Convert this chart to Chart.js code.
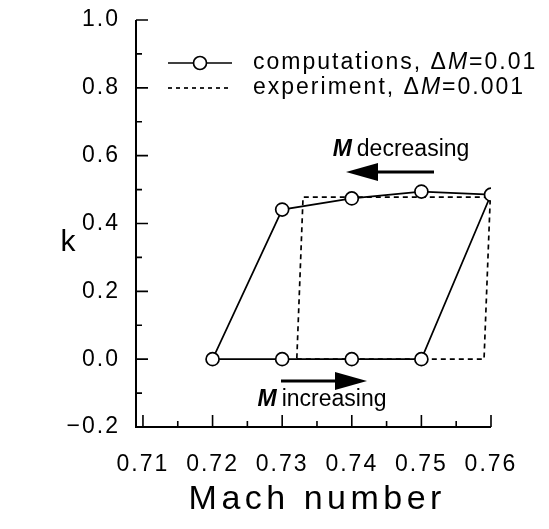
<!DOCTYPE html>
<html>
<head>
<meta charset="utf-8">
<script src="https://cdn.jsdelivr.net/npm/chart.js@4/dist/chart.umd.min.js"></script>
<style>
html,body{margin:0;padding:0;background:#fff;}
#wrap{width:549px;height:529px;}
</style>
</head>
<body>
<div id="wrap"><canvas id="c" width="549" height="529"></canvas></div>
<script>
// Data
const compMach = [0.72, 0.73, 0.74, 0.75, 0.76, 0.75, 0.74, 0.73, 0.72];
const compK    = [0.00, 0.00, 0.00, 0.00, 0.485, 0.494, 0.474, 0.441, 0.00];
const compMarker = [true, true, true, true, true, true, true, true, false];
const expMach  = [0.7321, 0.7590, 0.7599, 0.7330, 0.7321];
const expK     = [0.000, 0.000, 0.478, 0.478, 0.000];
const xTicks = [0.71, 0.72, 0.73, 0.74, 0.75, 0.76];
const xMinorTicks = [0.715, 0.725, 0.735, 0.745, 0.755];
const yTicks = [-0.2, 0.0, 0.2, 0.4, 0.6, 0.8, 1.0];
const yMinorTicks = [-0.1, 0.1, 0.3, 0.5, 0.7, 0.9];
const legendLabels = ['computations, ', 'experiment, '];
const legendDeltas = ['0.01', '0.001'];

const FONT = '"Liberation Sans", Arial, sans-serif';

const compData = compMach.map((m, i) => ({x: m, y: compK[i]}));
const expData = expMach.map((m, i) => ({x: m, y: expK[i]}));

const spacingPlugin = {
  id: 'spacing',
  beforeDraw(chart) { chart.ctx.letterSpacing = '2px'; }
};

const decorPlugin = {
  id: 'decor',
  afterDraw(chart) {
    const ctx = chart.ctx;
    const xs = chart.scales.x, ys = chart.scales.y;
    const ca = chart.chartArea;
    ctx.save();
    ctx.strokeStyle = '#000';
    ctx.fillStyle = '#000';
    // axes lines
    ctx.lineWidth = 2;
    ctx.beginPath();
    ctx.moveTo(ca.left, ca.top);
    ctx.lineTo(ca.left, ca.bottom);
    ctx.lineTo(ca.right, ca.bottom);
    ctx.stroke();
    // inward ticks
    ctx.lineWidth = 1.6;
    ctx.beginPath();
    xTicks.forEach(v => { const p = xs.getPixelForValue(v); ctx.moveTo(p, ca.bottom); ctx.lineTo(p, ca.bottom - 12); });
    xMinorTicks.forEach(v => { const p = xs.getPixelForValue(v); ctx.moveTo(p, ca.bottom); ctx.lineTo(p, ca.bottom - 6); });
    yTicks.forEach(v => { const p = ys.getPixelForValue(v); ctx.moveTo(ca.left, p); ctx.lineTo(ca.left + 12, p); });
    yMinorTicks.forEach(v => { const p = ys.getPixelForValue(v); ctx.moveTo(ca.left, p); ctx.lineTo(ca.left + 6, p); });
    ctx.stroke();

    // axis titles
    ctx.letterSpacing = '4.5px';
    ctx.font = '34px ' + FONT;
    ctx.textAlign = 'left';
    ctx.textBaseline = 'middle';
    let tw = ctx.measureText('Mach number').width;
    ctx.fillText('Mach number', 315 - (tw - 4.5) / 2, 500);
    ctx.letterSpacing = '0px';
    ctx.font = '30px ' + FONT;
    tw = ctx.measureText('k').width;
    ctx.fillText('k', 68 - tw / 2, 243);

    // legend
    const lx0 = 168, lx1 = 232, ly1 = 63, ly2 = 88, tx = 253;
    ctx.letterSpacing = '2px';
    ctx.lineWidth = 1.7;
    ctx.setLineDash([]);
    ctx.beginPath(); ctx.moveTo(lx0, ly1); ctx.lineTo(lx1, ly1); ctx.stroke();
    ctx.fillStyle = '#fff';
    ctx.beginPath(); ctx.arc((lx0 + lx1) / 2, ly1, 6.5, 0, Math.PI * 2); ctx.fill(); ctx.stroke();
    ctx.setLineDash([4, 4]);
    ctx.beginPath(); ctx.moveTo(lx0, ly2); ctx.lineTo(lx1, ly2); ctx.stroke();
    ctx.setLineDash([]);
    ctx.fillStyle = '#000';
    ctx.textAlign = 'left';
    [ly1, ly2].forEach((ly, i) => {
      let x = tx;
      ctx.font = '23px ' + FONT;
      ctx.fillText(legendLabels[i], x, ly); x += ctx.measureText(legendLabels[i]).width;
      ctx.fillText('\u0394', x, ly); x += ctx.measureText('\u0394').width;
      ctx.font = 'italic 23px ' + FONT;
      ctx.fillText('M', x, ly); x += ctx.measureText('M').width;
      ctx.font = '23px ' + FONT;
      ctx.fillText('=' + legendDeltas[i], x, ly);
    });

    // annotations
    ctx.letterSpacing = '0px';
    function label(text, cx, cy) {
      ctx.font = 'italic bold 23px ' + FONT;
      const w1 = ctx.measureText('M').width + 5;
      ctx.font = '23px ' + FONT;
      const w2 = ctx.measureText(text).width;
      let x = cx - (w1 + w2) / 2;
      ctx.textAlign = 'left';
      ctx.font = 'italic bold 23px ' + FONT;
      ctx.fillText('M', x, cy);
      x += w1;
      ctx.font = '23px ' + FONT;
      ctx.fillText(text, x, cy);
    }
    label('decreasing', 401, 150);
    label('increasing', 322, 400);
    function arrow(xTail, xTip, y) {
      const dir = Math.sign(xTip - xTail);
      const headLen = 32, headHalf = 9;
      ctx.lineWidth = 3;
      ctx.beginPath(); ctx.moveTo(xTail, y); ctx.lineTo(xTip - dir * headLen, y); ctx.stroke();
      ctx.beginPath();
      ctx.moveTo(xTip, y);
      ctx.lineTo(xTip - dir * headLen, y - headHalf);
      ctx.lineTo(xTip - dir * headLen, y + headHalf);
      ctx.closePath(); ctx.fill();
    }
    arrow(434, 346, 172);
    arrow(281, 367, 381);
    ctx.restore();
  }
};

new Chart(document.getElementById('c'), {
  type: 'scatter',
  data: {
    datasets: [
      {
        label: 'experiment, \u0394M=0.001',
        data: expData,
        showLine: true,
        borderColor: '#000',
        borderWidth: 1.7,
        borderDash: [5, 4],
        pointRadius: 0,
        fill: false,
        order: 2
      },
      {
        label: 'computations, \u0394M=0.01',
        data: compData,
        showLine: true,
        borderColor: '#000',
        borderWidth: 1.7,
        backgroundColor: '#fff',
        pointBackgroundColor: '#fff',
        pointBorderColor: '#000',
        pointBorderWidth: 1.7,
        pointRadius: compMarker.map(b => b ? 6.5 : 0),
        fill: false,
        order: 1
      }
    ]
  },
  options: {
    responsive: false,
    animation: false,
    layout: { padding: { top: 20, right: 58, left: 0, bottom: 0 } },
    plugins: { legend: { display: false }, tooltip: { enabled: false } },
    scales: {
      x: {
        type: 'linear',
        min: 0.709,
        max: 0.76,
        afterBuildTicks(s) { s.ticks = xTicks.map(v => ({value: v})); },
        afterFit(s) { s.height = 102; s.paddingLeft = 0; s.paddingRight = 0; },
        grid: { display: false, drawTicks: false },
        border: { display: false },
        ticks: {
          color: '#000',
          font: { family: FONT, size: 23 },
          padding: 24,
          maxRotation: 0,
          autoSkip: false,
          callback: v => v.toFixed(2)
        }
      },
      y: {
        type: 'linear',
        min: -0.2,
        max: 1.0,
        afterBuildTicks(s) { s.ticks = yTicks.map(v => ({value: v})); },
        afterFit(s) { s.width = 136; s.paddingTop = 0; s.paddingBottom = 0; },
        grid: { display: false, drawTicks: false },
        border: { display: false },
        ticks: {
          color: '#000',
          font: { family: FONT, size: 23 },
          padding: 16,
          autoSkip: false,
          callback: v => (v < 0 ? '\u2212' : '') + Math.abs(v).toFixed(1)
        }
      }
    }
  },
  plugins: [spacingPlugin, decorPlugin]
});
</script>
</body>
</html>
